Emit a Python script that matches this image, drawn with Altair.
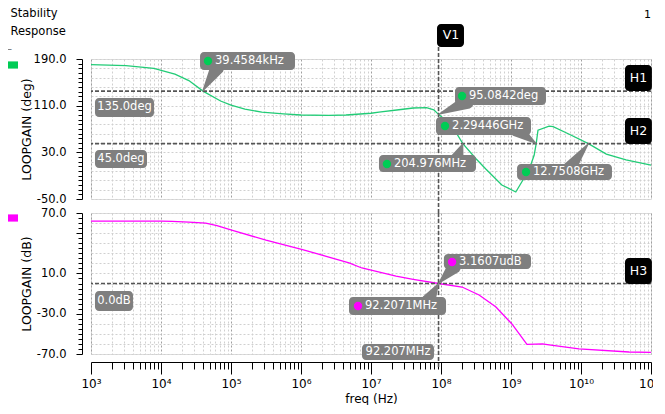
import altair as alt
import pandas as pd

FONT = "DejaVu Sans"
GREEN = "#22cc77"
GREEN_DOT = "#00cc55"
MAGENTA = "#ff00ff"
BOXGRAY = "#7f7f7f"
LINEGRAY = "#555555"

# ---- curves (frequency in Hz) ----
phase_freq = [1e3, 3.16e3, 7.9e3, 1.58e4, 2.5e4, 3.98e4, 7.1e4, 1.0e5, 1.58e5, 2.75e5,
              5.6e5, 1.0e6, 2.5e6, 4.4e6, 1.0e7, 1.3e7, 2.5e7, 4.0e7, 6.2e7, 7.9e7,
              9.22e7, 1.41e8, 2.05e8, 3.16e8, 4.4e8, 7.4e8, 1.17e9, 1.81e9, 2.14e9,
              2.29e9, 2.43e9, 3.5e9, 4.0e9, 6.8e9, 1.275e10, 2.3e10, 4.4e10, 1.0e11]
phase_deg = [180.5, 178.5, 174, 164, 153, 135, 118, 111, 104, 99,
             96, 94, 93.5, 94, 97, 99, 103, 106, 106.5, 103,
             95.1, 77, 45, 19, 1, -26, -38, 0, 25,
             45, 68, 75, 74, 61, 45, 27, 17, 8]

gain_freq = [1e3, 1e4, 1.44e4, 2.5e4, 4.36e4, 6.3e4, 1.05e5, 3.16e5, 1.05e6, 2.5e6,
             4.85e6, 7.4e6, 2.28e7, 4.0e7, 9.22e7, 2.0e8, 3.5e8, 6.1e8, 1.03e9, 1.69e9,
             2.24e9, 2.82e9, 3.5e9, 9.35e9, 4.85e10, 1e11]
gain_db = [62, 62, 61.7, 61, 60, 57.5, 52.8, 43, 33.6, 26.3,
           20.4, 15.4, 7.4, 4.2, 0, -3.5, -11.4, -23.3, -40.2, -60.5,
           -60.2, -60, -61, -65, -68, -68.3]

# ---- marker annotations (top / phase panel) ----
top_lab = ["39.4584kHz", "95.0842deg", "2.29446GHz", "204.976MHz", "12.7508GHz"]
top_f1 = [3.61e4, 1.585e8, 8.48e7, 1.3e7, 1.22e9]
top_f2 = [8.21e5, 3.16e9, 1.93e9, 3.16e8, 2.77e10]
top_v1 = [202.0, 142.0, 90.6, 25.4, 10.0]
top_v2 = [171.1, 111.1, 59.7, -3.7, -17.4]
top_dot_f = [4.69e4, 2.0e8, 1.14e8, 1.69e7, 1.64e9]
top_dot_v = [186.6, 126.6, 75.1, 10.0, -3.7]
top_txt_f = [5.91e4, 2.51e8, 1.44e8, 2.13e7, 2.06e9]
top_anc_f = [39458.4, 92.2071e6, 2.29446e9, 204.976e6, 12.7508e9]
top_anc_v = [135.0, 95.0842, 45.0, 45.0, 45.0]
top_end_f = [6.31e4, 2.35e8, 1.22e9, 1.69e8, 6.74e9]
top_end_v = [174.6, 116.3, 68.3, 18.6, 1.4]

top_plain_lab = ["135.0deg", "45.0deg"]
top_plain_f1 = [1.14e3, 1.14e3]
top_plain_f2 = [7.94e3, 6.31e3]
top_plain_v1 = [123.1, 34.0]
top_plain_v2 = [90.6, 3.1]
top_plain_tf = [3.01e3, 2.68e3]
top_plain_tv = [106.9, 18.6]

# ---- marker annotations (bottom / gain panel) ----
bot_lab = ["3.1607udB", "92.2071MHz"]
bot_f1 = [1.1e8, 4.85e6]
bot_f2 = [1.93e9, 1.18e8]
bot_v1 = [29.3, -13.4]
bot_v2 = [14.4, -31.3]
bot_dot_f = [1.44e8, 6.52e6]
bot_dot_v = [21.3, -22.3]
bot_txt_f = [1.81e8, 8.2e6]
bot_anc_f = [92.2071e6, 92.2071e6]
bot_anc_v = [0.0, 0.0]
bot_end_f = [1.53e8, 6.74e7]
bot_end_v = [16.4, -16.4]

bot_plain_lab = ["0.0dB", "92.207MHz"]
bot_plain_f1 = [1.14e3, 7.43e6]
bot_plain_f2 = [3.98e3, 7.94e7]
bot_plain_v1 = [-7.4, -60.1]
bot_plain_v2 = [-27.3, -76.0]
bot_plain_tf = [2.13e3, 2.43e7]
bot_plain_tv = [-17.4, -68.0]

# ---- cursor lines and their tags ----
v1_freq = 92.2071e6
h_top_vals = [135.0, 45.0]
h_bot_vals = [0.0]
tag_top_lab = ["V1", "H1", "H2"]
tag_top_f1 = [8.77e7, 4.25e10, 4.25e10]
tag_top_f2 = [2.13e8, 1.03e11, 1.03e11]
tag_top_v1 = [250.0, 179.7, 88.9]
tag_top_v2 = [210.6, 135.1, 44.3]
tag_top_tf = [1.39e8, 6.63e10, 6.63e10]
tag_top_tv = [230.3, 157.4, 66.6]
tag_bot_lab = ["H3"]
tag_bot_f1 = [4.25e10]
tag_bot_f2 = [1.03e11]
tag_bot_v1 = [25.3]
tag_bot_v2 = [-0.5]
tag_bot_tf = [6.63e10]
tag_bot_tv = [12.4]

# ---- axes ----
SUP = {"0": "\u2070", "1": "\u00b9", "2": "\u00b2", "3": "\u00b3", "4": "\u2074",
       "5": "\u2075", "6": "\u2076", "7": "\u2077", "8": "\u2078", "9": "\u2079"}
decades = list(range(3, 12))
x_ticks = [m * 10 ** k for k in range(3, 11) for m in range(1, 10)] + [10 ** 11]
x_label_expr = " : ".join(
    f"datum.value == {10 ** k} ? '10{''.join(SUP[c] for c in str(k))}'" for k in decades
) + " : ''"
is_decade = "abs(log(datum.value)/LN10 - round(log(datum.value)/LN10)) < 0.001"

xscale = alt.Scale(type="log", domain=[1e3, 1e11], nice=False)

grid_color = {"condition": {"test": is_decade, "value": "#a0a0a0"}, "value": "#d0d0d0"}

x_axis_top = alt.Axis(values=x_ticks, labels=False, ticks=False, domain=False, grid=True,
                      gridColor=grid_color, gridDash=[2, 2], gridWidth=1, title=None)
x_axis_bot = alt.Axis(values=x_ticks, labelExpr=x_label_expr, grid=True,
                      gridColor=grid_color, gridDash=[2, 2], gridWidth=1,
                      tickSize={"condition": {"test": is_decade, "value": 12}, "value": 7},
                      tickColor="#000", domainColor="#000", offset=8,
                      labelFont=FONT, labelFontSize=12, labelColor="#000", labelPadding=4,
                      labelFlush=False, labelOverlap=False,
                      title="freq (Hz)", titleFont=FONT, titleFontSize=12,
                      titleFontWeight="normal", titleColor="#000", titlePadding=4)

top_vals = list(range(-50, 191, 8))
y_axis_top = alt.Axis(
    values=top_vals,
    labelExpr="(datum.value+50)%80==0 ? (datum.value<0 ? '-' : '') + format(abs(datum.value), '.1f') : ''",
    grid=True, gridColor="#d0d0d0", gridDash=[2, 2],
    gridOpacity={"condition": {"test": "(datum.value+50)%16==0", "value": 1}, "value": 0},
    tickSize={"condition": {"test": "(datum.value+50)%80==0", "value": 6}, "value": 4},
    tickColor="#000", domainColor="#000", offset=9, labelPadding=10,
    labelFont=FONT, labelFontSize=11.5, labelColor="#000", labelOverlap=False,
    title="LOOPGAIN (deg)", titleFont=FONT, titleFontSize=12.5, titleFontWeight="normal",
    titleColor="#000", titleX=-56, titleY=70, titleAngle=-90, titleAlign="center",
    titleBaseline="middle")

bot_vals = list(range(-70, 71, 5))
y_axis_bot = alt.Axis(
    values=bot_vals,
    labelExpr="(datum.value==70 || ((datum.value+70)%40==0 && datum.value!=50)) ? (datum.value<0 ? '-' : '') + format(abs(datum.value), '.1f') : ''",
    grid=True, gridColor="#d0d0d0", gridDash=[2, 2],
    gridOpacity={"condition": {"test": "(datum.value+70)%10==0", "value": 1}, "value": 0},
    tickSize={"condition": {"test": "(datum.value==70 || (datum.value+70)%40==0)", "value": 6}, "value": 4},
    tickColor="#000", domainColor="#000", offset=9, labelPadding=10,
    labelFont=FONT, labelFontSize=11.5, labelColor="#000", labelOverlap=False,
    title="LOOPGAIN (dB)", titleFont=FONT, titleFontSize=12.5, titleFontWeight="normal",
    titleColor="#000", titleX=-56, titleY=70.5, titleAngle=-90, titleAlign="center",
    titleBaseline="middle")


def panel(curve_f, curve_v, color, dotcolor, yscale, xaxis, yaxis,
          lab, f1, f2, v1, v2, dot_f, dot_v, txt_f, anc_f, anc_v, end_f, end_v,
          plab, pf1, pf2, pv1, pv2, ptf, ptv,
          hvals, v1_top, v1_bot,
          tlab, tf1, tf2, tv1, tv2, ttf, ttv, series, legend_y, height):
    X = lambda: alt.X("f:Q", scale=xscale, axis=xaxis)
    Y = lambda: alt.Y("v:Q", scale=yscale, axis=yaxis)

    curve = alt.Chart(pd.DataFrame({"f": curve_f, "v": curve_v})).mark_line(
        color=color, strokeWidth=1.3).encode(x=X(), y=Y())

    hrule = alt.Chart(pd.DataFrame({"v": hvals})).mark_rule(
        color=LINEGRAY, strokeDash=[4, 2], strokeWidth=1.6).encode(y=Y())

    vrule = alt.Chart(pd.DataFrame({"f": [v1_freq], "v": [v1_top], "v2": [v1_bot]})).mark_rule(
        color=LINEGRAY, strokeDash=[4, 2], strokeWidth=1.6).encode(x=X(), y=Y(), y2="v2:Q")

    ptr_rows = []
    for i in range(len(anc_f)):
        ptr_rows.append({"f": anc_f[i], "v": anc_v[i], "s": 0, "id": i})
        ptr_rows.append({"f": end_f[i], "v": end_v[i], "s": 14, "id": i})
    pointers = alt.Chart(pd.DataFrame(ptr_rows)).mark_trail(color=BOXGRAY).encode(
        x=X(), y=Y(), size=alt.Size("s:Q", scale=None, legend=None), detail="id:N")

    box_df = pd.DataFrame({"f": f1 + pf1, "f2": f2 + pf2, "v": v1 + pv1, "v2": v2 + pv2})
    boxes = alt.Chart(box_df).mark_rect(color=BOXGRAY, cornerRadius=4).encode(
        x=X(), x2="f2:Q", y=Y(), y2="v2:Q")

    dots = alt.Chart(pd.DataFrame({"f": dot_f, "v": dot_v, "series": [series] * len(dot_f)})).mark_point(
        shape="circle", filled=True, size=70, opacity=1).encode(
        x=X(), y=Y(),
        color=alt.Color("series:N", scale=alt.Scale(range=[dotcolor]),
                        legend=alt.Legend(orient="none", legendX=-85, legendY=legend_y, title=None,
                                          labelExpr="''", symbolType="M-1,-0.6L1,-0.6L1,0.6L-1,0.6Z",
                                          symbolSize=144, symbolStrokeWidth=0, symbolOpacity=1,
                                          padding=0, labelFontSize=1)))

    texts = alt.Chart(pd.DataFrame({"f": txt_f, "v": dot_v, "label": lab})).mark_text(
        align="left", baseline="middle", color="white", font=FONT, fontSize=11.5).encode(
        x=X(), y=Y(), text="label:N")

    ptexts = alt.Chart(pd.DataFrame({"f": ptf, "v": ptv, "label": plab})).mark_text(
        align="center", baseline="middle", color="white", font=FONT, fontSize=11.5).encode(
        x=X(), y=Y(), text="label:N")

    tags = alt.Chart(pd.DataFrame({"f": tf1, "f2": tf2, "v": tv1, "v2": tv2})).mark_rect(
        color="#000", cornerRadius=4).encode(x=X(), x2="f2:Q", y=Y(), y2="v2:Q")
    tagtext = alt.Chart(pd.DataFrame({"f": ttf, "v": ttv, "label": tlab})).mark_text(
        align="center", baseline="middle", color="white", font=FONT, fontSize=12.5).encode(
        x=X(), y=Y(), text="label:N")

    return alt.layer(curve, hrule, vrule, pointers, boxes, dots, texts, ptexts, tags, tagtext).properties(
        width=560, height=height)


top = panel(phase_freq, phase_deg, GREEN, GREEN_DOT,
            alt.Scale(domain=[-50, 190], nice=False, zero=False), x_axis_top, y_axis_top,
            top_lab, top_f1, top_f2, top_v1, top_v2, top_dot_f, top_dot_v, top_txt_f,
            top_anc_f, top_anc_v, top_end_f, top_end_v,
            top_plain_lab, top_plain_f1, top_plain_f2, top_plain_v1, top_plain_v2,
            top_plain_tf, top_plain_tv,
            h_top_vals, 210.6, -74.0,
            tag_top_lab, tag_top_f1, tag_top_f2, tag_top_v1, tag_top_v2, tag_top_tf, tag_top_tv,
            "phase", 0, 140)

corner = alt.Chart(pd.DataFrame({"t": ["1"]})).mark_text(
    align="left", baseline="top", font=FONT, fontSize=11, color="#000").encode(
    x=alt.value(553), y=alt.value(-50), text="t:N")
dash = alt.Chart(pd.DataFrame({"t": ["\u2013"]})).mark_text(
    align="left", baseline="middle", font=FONT, fontSize=10, color="#666").encode(
    x=alt.value(-84), y=alt.value(-10), text="t:N")
top = alt.layer(top, corner, dash)

bottom = panel(gain_freq, gain_db, MAGENTA, MAGENTA,
               alt.Scale(domain=[-70, 70], nice=False, zero=False), x_axis_bot, y_axis_bot,
               bot_lab, bot_f1, bot_f2, bot_v1, bot_v2, bot_dot_f, bot_dot_v, bot_txt_f,
               bot_anc_f, bot_anc_v, bot_end_f, bot_end_v,
               bot_plain_lab, bot_plain_f1, bot_plain_f2, bot_plain_v1, bot_plain_v2,
               bot_plain_tf, bot_plain_tv,
               h_bot_vals, 70.0, -84.0,
               tag_bot_lab, tag_bot_f1, tag_bot_f2, tag_bot_v1, tag_bot_v2, tag_bot_tf, tag_bot_tv,
               "gain", -1, 141)

chart = alt.vconcat(top, bottom, spacing=14, bounds="flush").resolve_scale(
    color="independent", y="independent").resolve_legend(color="independent").properties(
    padding={"left": -3, "top": 0, "right": -11, "bottom": 0},
    title=alt.TitleParams(text=["Stability", "Response"], anchor="start", font=FONT,
                          fontSize=11.5, fontWeight="normal", color="#000", lineHeight=18,
                          offset=-29, dx=5, frame="bounds")
).configure_view(strokeWidth=0).configure(background="white")

chart.save("out.html", embed_options={"renderer": "svg", "actions": False})
